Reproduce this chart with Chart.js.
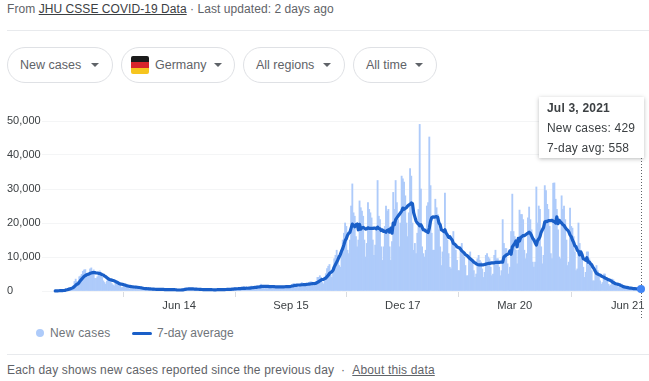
<!DOCTYPE html>
<html><head><meta charset="utf-8">
<script src="https://cdn.jsdelivr.net/npm/chart.js@4"></script>
<style>
html,body{margin:0;padding:0;background:#fff;}
body{width:649px;height:381px;position:relative;overflow:hidden;font-family:"Liberation Sans",Arial,sans-serif;color:#5f6368;font-size:12px;}
.abs{position:absolute;white-space:nowrap;}
a{color:#3c4043;text-decoration:underline;}
.chip{position:absolute;top:47px;height:34px;border:1px solid #dfe1e5;border-radius:18px;box-sizing:content-box;color:#5f6368;line-height:34px;font-size:12.5px;background:#fff;}
.chip span{position:absolute;top:0;white-space:nowrap;}
.chip i{position:absolute;top:15px;width:0;height:0;border-left:4px solid transparent;border-right:4px solid transparent;border-top:4px solid #5f6368;}
.hr{position:absolute;left:7px;right:0;height:1px;background:#e8eaed;}
#tip{position:absolute;left:539px;top:97px;width:105px;height:61px;background:#fff;box-shadow:0 1px 4px rgba(60,64,67,.35);font-size:12px;color:#3c4043;z-index:3;letter-spacing:.2px;}
#tip div{position:absolute;left:8px;white-space:nowrap;}
canvas{position:absolute;left:0;top:100px;}
</style></head>
<body>
<div class="abs" style="left:7px;top:2px;color:#5f6368;letter-spacing:.06px;">From <a>JHU CSSE COVID-19 Data</a> · Last updated: 2 days ago</div>
<div class="hr" style="top:30px;"></div>
<div class="chip" style="left:7px;width:104px;"><span style="left:12px;">New cases</span><i style="left:83px;"></i></div>
<div class="chip" style="left:121px;width:112px;"><div style="position:absolute;left:9px;top:8px;width:18px;height:18px;border-radius:2px;overflow:hidden;"><div style="height:6px;background:#1c1c1c;"></div><div style="height:6px;background:#d8262c;"></div><div style="height:6px;background:#f6c51e;"></div></div><span style="left:33px;">Germany</span><i style="left:92px;"></i></div>
<div class="chip" style="left:243px;width:100px;"><span style="left:12px;">All regions</span><i style="left:79px;"></i></div>
<div class="chip" style="left:353px;width:82px;"><span style="left:12px;">All time</span><i style="left:61px;"></i></div>

<canvas id="c" width="649" height="220" style="width:649px;height:220px;"></canvas>

<div id="tip"><div id="t1" style="top:4px;font-weight:bold;"></div><div id="t2" style="top:24px;"></div><div id="t3" style="top:44px;"></div></div>

<div class="abs" style="left:36px;top:329px;width:8px;height:8px;border-radius:50%;background:#aecbfa;"></div>
<div class="abs" style="left:50px;top:326px;color:#70757a;letter-spacing:.2px;">New cases</div>
<div class="abs" style="left:132px;top:332px;width:20px;height:3px;border-radius:2px;background:#1a5fc8;"></div>
<div class="abs" style="left:157px;top:326px;color:#70757a;">7-day average</div>
<div class="hr" style="top:354px;"></div>
<div class="abs" style="left:7px;top:363px;color:#5f6368;letter-spacing:.16px;">Each day shows new cases reported since the previous day &nbsp;· &nbsp;<a style="color:#5f6368;">About this data</a></div>

<script>
const startDate = [2020, 2, 3];
const leadDays = 11;
const tickLabels = {"Jun 14":103, "Sep 15":196, "Dec 17":289, "Mar 20":382, "Jun 21":476};
const yTicks = [0,10000,20000,30000,40000,50000];

const newCases = [
45,50,80,240,117,100,130,
300,270,800,700,900,1000,1100,
1100,1500,2800,3500,2800,2000,4200,
4400,4900,5800,6200,6300,4400,4500,
4700,6500,6800,5800,6200,3700,3700,
4200,5600,5900,5200,4000,3000,2500,
2000,2900,3600,3500,3700,2200,1800,
1500,2500,2400,2300,1900,1600,1000,
1100,1600,1500,1100,900,800,600,
700,1200,1100,1000,1200,600,500,
750,900,800,600,500,450,550,
600,740,460,600,430,290,320,
430,500,700,400,400,300,180,
280,400,450,480,450,240,180,
350,550,300,250,250,200,190,
380,600,700,770,600,500,500,
500,600,630,500,480,300,280,
460,500,450,400,300,250,300,
400,440,400,380,350,220,170,
350,450,520,500,350,250,210,
400,550,590,800,300,280,340,
630,680,870,870,700,300,500,
740,1050,1150,1100,550,440,450,
950,1230,1450,1400,1100,600,560,
1500,1500,1700,2000,1400,800,700,
1300,1600,1500,1500,1400,700,600,
1400,1300,1300,1400,1400,800,800,
1200,1200,1500,1600,1600,900,700,
1700,1900,2200,2200,1900,1300,1000,
1800,2100,2500,2200,2200,1400,1300,
2100,2500,2700,2700,2500,1400,1800,
2800,4000,4000,4500,4000,2500,2100,
4100,5100,6600,7300,7800,4700,4000,
6900,9500,10500,12000,10500,7500,7000,
12000,15000,17000,20000,19000,12000,11000,
15000,25000,31500,23000,22000,16000,13000,
15000,26500,24500,23500,22000,15000,10000,
14000,26000,24000,23000,21500,15000,10500,
13500,18500,32500,22000,21000,13000,9000,
13000,19000,25000,23500,24000,13000,9000,
14500,29000,24000,32500,26000,21000,13000,
20000,33800,33000,32000,28000,20000,16000,
23000,36000,33800,20000,12000,14000,11000,
17000,24000,49000,30000,13000,11000,10000,
12000,25000,26000,45300,31000,17000,12000,
12000,27000,24500,22500,18000,13000,7500,
11500,18000,28800,17500,15000,11000,7000,
6500,15500,17500,14000,12000,9000,6000,
6000,13000,14000,11000,10000,7500,4500,
4500,10500,11500,9000,8500,6000,4000,
5000,9500,10500,9000,8500,6500,4000,
5500,10500,11000,10000,9500,7000,4500,
5000,10500,12000,9500,9500,7000,4500,
6000,21000,14000,12500,12500,8000,5000,
7000,17500,28500,17500,16000,12000,8000,
12000,23800,22500,22500,21000,12000,9500,
11000,21500,24700,21000,18000,8500,7000,
8500,30600,20000,25000,24000,13000,8000,
10500,31000,29500,25500,24000,19000,11000,
9500,31700,31800,27000,24000,18000,10000,
9500,28000,24000,25000,21000,15000,7500,
8500,24400,19000,18500,16000,11500,6000,
6500,20000,14000,12000,11000,7000,4000,
5500,11500,11500,9500,8500,6000,3000,
3000,6000,7500,6000,5000,3000,2000,
2500,5000,5000,4000,3500,2000,1500,
1800,3500,3300,2700,2400,1500,1000,
1300,2100,2000,1400,1300,800,600,
750,1100,1000,850,700,450,350,
600,900,800,700,429];

const sevenDayAvg = [
20,30,40,80,100,110,120,
150,180,280,370,480,600,700,
850,1020,1320,1700,2000,2150,2600,
3100,3500,3900,4300,4500,4800,4900,
5000,5200,5300,5400,5400,5400,5300,
5300,5200,5150,5000,4800,4700,4400,
4200,3900,3600,3400,3300,3200,3100,
3000,2800,2600,2500,2200,2100,2000,
1950,1850,1750,1600,1500,1400,1350,
1300,1250,1200,1180,1150,1100,1050,
1030,950,900,820,740,700,700,
670,650,620,590,570,540,510,
480,470,490,470,470,470,450,
430,420,380,390,400,390,400,
400,430,370,330,300,290,290,
310,350,420,500,550,590,640,
650,650,640,600,580,570,540,
520,480,460,440,420,410,410,
400,400,390,380,390,370,360,
360,360,380,390,400,400,410,
420,430,440,480,470,480,490,
530,560,600,610,660,670,690,
700,750,790,820,800,820,810,
840,870,910,950,1020,1040,1060,
1140,1180,1220,1300,1340,1370,1390,
1360,1380,1350,1290,1290,1280,1270,
1280,1240,1210,1200,1200,1210,1240,
1230,1220,1250,1280,1310,1320,1300,
1380,1470,1530,1620,1660,1720,1760,
1770,1800,1840,1850,1890,1900,1940,
1980,2040,2060,2130,2170,2170,2240,
2320,2540,2730,3000,3220,3380,3430,
3620,3820,4220,4620,5140,5440,5700,
6100,7100,7800,8500,9200,10000,10700,
11700,12500,13600,14800,15400,16400,17000,
17300,18500,19700,19300,18900,19500,19700,
18000,19600,18200,18600,18700,18500,18200,
18300,18600,18400,18400,18400,18400,18500,
18500,18300,18800,18400,18300,17800,18000,
17500,17600,17300,17800,18000,17300,18500,
17000,20000,19500,21000,21500,22000,22500,
23000,23500,24400,24000,24300,24500,25000,
25300,25500,25900,25700,23000,21800,20600,
20000,19700,19200,19500,18800,18000,18000,
17600,17500,17200,18500,20500,21600,21800,
21700,21800,21900,21700,20000,19500,18000,
17800,17500,18000,17000,16500,15800,16000,
15400,15000,14000,13800,13500,13000,12800,
12700,12300,11800,11500,11200,10700,10500,
10200,9800,9500,9200,8900,8500,8300,
8000,7800,7700,7700,7700,7700,7700,
7800,7900,8000,8100,8100,8200,8300,
8300,8300,8400,8400,8400,8400,8500,
8500,8500,10000,10300,10600,10800,11000,
11800,10800,13000,13500,14000,14700,13000,
15500,14700,15800,16000,16300,16300,16500,
16800,17000,17300,17000,16300,15500,15000,
14200,13500,14800,15300,16000,17300,18000,
18700,20300,20500,20400,20700,20700,20700,
20800,20500,20400,20000,21800,19800,20800,
20300,20000,19500,19300,18700,18200,17900,
17400,16500,16000,15000,14300,13300,13000,
12000,11700,10600,11500,10700,9500,9300,
9000,9800,8500,8600,8000,7700,7000,
6500,5800,5200,5000,4800,4700,4400,
4200,4100,3800,3700,3500,3300,3200,
3000,2700,2500,2300,2150,2050,1950,
1850,1650,1500,1350,1200,1130,1080,
1000,920,860,820,760,720,690,
660,630,610,590,558];

const seriesNames = ["New cases", "7-day average"];
const tooltipDate = "Jul 3, 2021";
const barColor = "#aecbfa", lineColor = "#1a5fc8", markerColor = "#4285f4";

const tickByIndex = {};
Object.keys(tickLabels).forEach(k => tickByIndex[tickLabels[k] + leadDays] = k);
const pad = new Array(leadDays).fill(null);
const labels = pad.concat(newCases).map((_, i) => {
  const d = new Date(startDate[0], startDate[1], startDate[2] + i - leadDays);
  return d.toDateString();
});
const barData = pad.concat(newCases);
const lineData = pad.concat(sevenDayAvg);
const lastIdx = labels.length - 1;

document.getElementById('t1').textContent = tooltipDate;
document.getElementById('t2').textContent = 'New cases: ' + newCases[newCases.length-1];
document.getElementById('t3').textContent = '7-day avg: ' + sevenDayAvg[sevenDayAvg.length-1];

const crosshair = {
  id: 'crosshair',
  afterDatasetsDraw(chart) {
    const x = Math.round(chart.scales.x.getPixelForValue(lastIdx)) + 0.5;
    const c = chart.ctx;
    c.save();
    c.strokeStyle = '#5f6368'; c.lineWidth = 1; c.setLineDash([1,2]);
    c.beginPath(); c.moveTo(x, 58); c.lineTo(x, 220); c.stroke();
    c.restore();
    const el = chart.getDatasetMeta(0).data[lastIdx];
    c.save(); c.fillStyle = markerColor;
    c.beginPath(); c.arc(el.x, el.y, 4, 0, Math.PI*2); c.fill(); c.restore();
  }
};

new Chart(document.getElementById('c'), {
  data: {
    labels,
    datasets: [
      {type:'line', label:seriesNames[1], data:lineData, borderColor:lineColor, borderWidth:3.2, pointRadius:0, tension:0, borderJoinStyle:'round', borderCapStyle:'round', order:1, clip:false},
      {type:'bar', label:seriesNames[0], data:barData, backgroundColor:barColor, barPercentage:1, categoryPercentage:1, order:2}
    ]
  },
  options: {
    responsive:false, animation:false,
    layout:{padding:{left:7,right:8,top:21,bottom:0}},
    events:[],
    plugins:{legend:{display:false},tooltip:{enabled:false}},
    scales:{
      x:{
        offset:false,
        border:{display:false},
        grid:{drawOnChartArea:false,drawTicks:true,tickLength:6,tickColor:'#dadce0'},
        afterFit(s){s.height=29;},
        ticks:{
          autoSkip:false,maxRotation:0,minRotation:0,padding:2,
          color:'#3c4043',font:{family:'"Liberation Sans",Arial,sans-serif',size:11.2},
          callback(v,i){return tickByIndex[i]||null;}
        }
      },
      y:{
        min:0,max:50000,
        border:{display:false},
        afterFit(s){s.width=35;},
        grid:{color:'#f4f5f6',drawTicks:false},
        afterBuildTicks(s){s.ticks=yTicks.map(v=>({value:v}));},
        ticks:{
          crossAlign:'far',padding:0,
          color:'#3c4043',font:{family:'"Liberation Sans",Arial,sans-serif',size:11},
          callback(v){return v.toLocaleString('en-US');}
        }
      }
    }
  },
  plugins:[crosshair]
});
</script>
</body></html>
